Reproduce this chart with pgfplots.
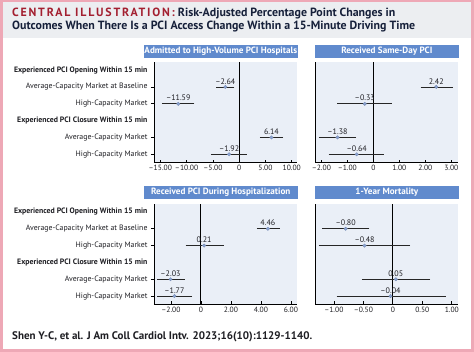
\documentclass[border=0pt]{standalone}
\usepackage{fontspec}
\setmainfont{PT Sans}
\usepackage{pgfplots}
\pgfplotsset{compat=1.18}
\usepackage{pgfplotstable}

\definecolor{pinkb}{RGB}{238,168,182}
\definecolor{headgrey}{RGB}{236,238,241}
\definecolor{darkred}{RGB}{163,31,48}
\definecolor{navy}{RGB}{22,32,58}
\definecolor{barblue}{RGB}{96,138,205}
\definecolor{bgblue}{RGB}{234,239,247}
\definecolor{ptblue}{RGB}{140,165,212}
\definecolor{txt}{RGB}{30,30,35}

% y: 6 = first header row ... 1 = last row
\pgfplotstableread{
y x ep em lab
5 -2.64 1.34 1.36 –2.64
4 -11.59 2.69 2.71 –11.59
2 6.14 1.86 1.84 6.14
1 -1.92 3.02 3.08 –1.92
}\tlA
\pgfplotstableread{
y x ep em lab
5 2.42 0.55 0.52 2.42
4 -0.33 0.97 0.98 –0.33
2 -1.38 0.64 0.64 –1.38
1 -0.64 0.96 1.00 –0.64
}\trA
\pgfplotstableread{
y x ep em lab
5 4.46 0.66 0.60 4.46
4 0.21 1.17 1.10 0.21
2 -2.03 0.81 0.75 –2.03
1 -1.77 1.04 1.01 –1.77
}\blA
\pgfplotstableread{
y x ep em lab
5 -0.80 0.37 0.36 –0.80
4 -0.48 0.74 0.74 –0.48
2 0.05 0.55 0.54 0.05
1 -0.04 0.90 0.88 –0.04
}\brA

\tikzset{titlebar/.style={fill=barblue, text=white, font=\fontsize{9.1}{10}\selectfont\bfseries, inner sep=0pt, minimum height=12.5pt}}

\pgfplotsset{
 panel/.style={
  scale only axis, height=101pt,
  ymin=0.5, ymax=6.5, enlargelimits=false, clip=false,
  axis x line*=bottom, axis y line*=left,
  axis line style={line width=0.9pt, black, -},
  axis background/.style={fill=bgblue},
  tick align=inside,
  major tick length=3pt,
  tick style={black, line width=0.7pt},
  x tick label style={font=\fontsize{7.6}{8}\selectfont, text=txt, yshift=1pt},
  ytick=\empty,
 },
 rowlabels/.style={
  ytick={1,...,6},
  yticklabels={High-Capacity Market, Average-Capacity Market, \textbf{Experienced PCI Closure Within 15 min}, High-Capacity Market, Average-Capacity Market at Baseline, \textbf{Experienced PCI Opening Within 15 min}},
  y tick label style={font=\fontsize{7.8}{8}\selectfont, text=txt, anchor=east, xshift=-3pt},
  ytick style={draw=none},
  extra y ticks={1,2,4,5},
  extra y tick labels={},
  extra y tick style={tick align=outside, ytick style={draw=black, line width=0.7pt}},
 },
 forest/.style={
  only marks, mark=*, mark size=1.7pt,
  mark options={fill=ptblue, draw=ptblue!85!black, line width=0.4pt},
  nodes near coords, point meta=explicit symbolic,
  every node near coord/.append style={font=\fontsize{8}{9}\selectfont, text=txt, anchor=south, inner sep=1pt, yshift=1.5pt},
  error bars/.cd, x dir=both, x explicit,
  error bar style={line width=0.9pt, black!85},
  error mark options={line width=0.9pt, mark size=2pt, black!85},
 },
}

\begin{document}
\begin{tikzpicture}
\useasboundingbox (0pt,0pt) rectangle (474pt,-352pt);
\fill[pinkb] (0pt,0pt) rectangle (474pt,-352pt);
\fill[white] (3pt,-2pt) rectangle (471pt,-349pt);
\fill[headgrey] (3pt,-2pt) rectangle (471pt,-38pt);
\node[anchor=base west, inner sep=0, font=\fontsize{11.9}{13}\selectfont\bfseries, text=navy] at (12pt,-16.8pt)
  {{\color{darkred}\addfontfeature{LetterSpace=15}CENTRAL ILLUSTRATION:} Risk-Adjusted Percentage Point Changes in};
\node[anchor=base west, inner sep=0, font=\fontsize{11.9}{13}\selectfont\bfseries, text=navy] at (12pt,-29.8pt)
  {Outcomes When There Is a PCI Access Change Within a 15-Minute Driving Time};
\node[anchor=base west, inner sep=0, font=\fontsize{11}{12}\selectfont\bfseries, text=txt] at (12pt,-339.5pt)
  {Shen Y-C, et al. J Am Coll Cardiol Intv. 2023;16(10):1129-1140.};

% top-left
\begin{axis}[panel, rowlabels, width=143pt, at={(154pt,-162.7pt)}, anchor=south west,
  xmin=-16.2, xmax=11,
  xtick={-15,-10,-5,0,5,10}, xticklabels={–15.00,–10.00,–5.00,0,5.00,10.00}]
\addplot[black, line width=1pt, forget plot] coordinates {(0,0.5) (0,6.5)};
\addplot[forest] table[x=x, y=y, x error plus=ep, x error minus=em, meta=lab] \tlA;
\node[titlebar, minimum width=154pt, anchor=south east] at ([xshift=1pt, yshift=4pt]rel axis cs:1,1) {Admitted to High-Volume PCI Hospitals};
\end{axis}

% top-right
\begin{axis}[panel, width=143.3pt, at={(315pt,-162.7pt)}, anchor=south west,
  xmin=-2.245, xmax=3.27,
  xtick={-2,-1,0,1,2,3}, xticklabels={–2.00,–1.00,0,1.00,2.00,3.00}]
\addplot[black, line width=1pt, forget plot] coordinates {(0,0.5) (0,6.5)};
\addplot[forest] table[x=x, y=y, x error plus=ep, x error minus=em, meta=lab] \trA;
\node[titlebar, minimum width=143.3pt, anchor=south west] at ([yshift=4pt]rel axis cs:0,1) {Received Same-Day PCI};
\end{axis}

% bottom-left
\begin{axis}[panel, rowlabels, width=143pt, at={(154pt,-304.5pt)}, anchor=south west,
  xmin=-3.13, xmax=6.4,
  xtick={-2,0,2,4,6}, xticklabels={–2.00,0,2.00,4.00,6.00}]
\addplot[black, line width=1pt, forget plot] coordinates {(0,0.5) (0,6.5)};
\addplot[forest] table[x=x, y=y, x error plus=ep, x error minus=em, meta=lab] \blA;
\node[titlebar, minimum width=154pt, anchor=south east] at ([xshift=1pt, yshift=4.5pt]rel axis cs:1,1) {Received PCI During Hospitalization};
\end{axis}

% bottom-right
\begin{axis}[panel, width=143.3pt, at={(315pt,-304.5pt)}, anchor=south west,
  xmin=-1.32, xmax=1.11,
  xtick={-1,-0.5,0,0.5,1}, xticklabels={–1.00,–0.50,0,0.50,1.00}]
\addplot[black, line width=1pt, forget plot] coordinates {(0,0.5) (0,6.5)};
\addplot[forest] table[x=x, y=y, x error plus=ep, x error minus=em, meta=lab] \brA;
\node[titlebar, minimum width=143.3pt, anchor=south west] at ([yshift=4.5pt]rel axis cs:0,1) {1-Year Mortality};
\end{axis}
\end{tikzpicture}
\end{document}
